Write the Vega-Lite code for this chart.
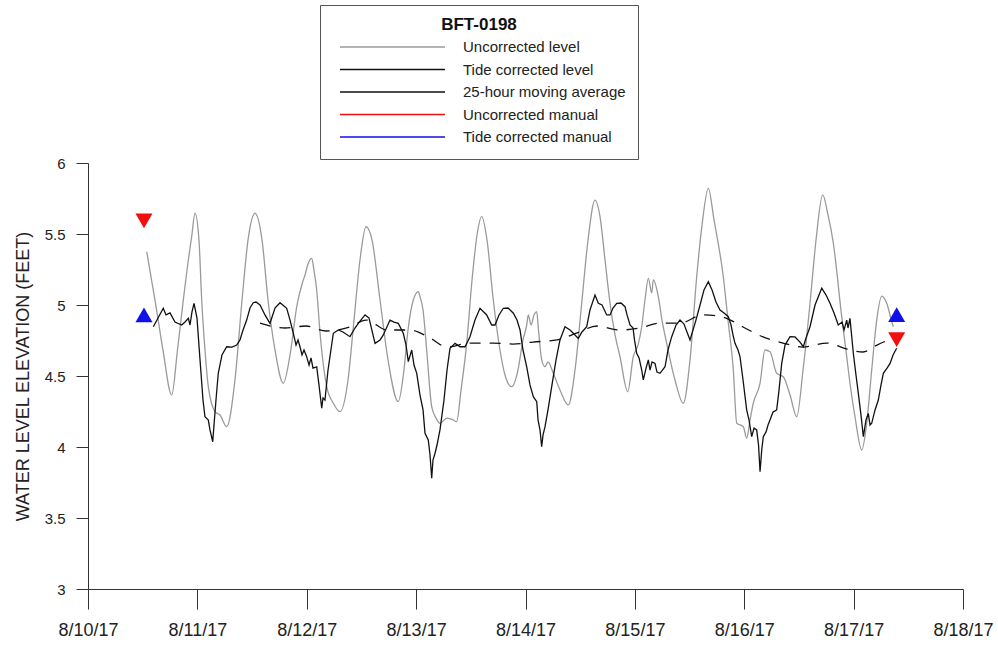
{
  "$schema": "https://vega.github.io/schema/vega-lite/v6.json",
  "width": 875,
  "height": 426,
  "padding": {"left": 88, "top": 163, "right": 35, "bottom": 58},
  "autosize": {"type": "none"},
  "config": {"font": "Liberation Sans", "view": {"stroke": null}},
  "datasets": {
    "gray": [
      {"t":"2017-08-10T12:53","v":5.375},{"t":"2017-08-10T14:42","v":5.035},{"t":"2017-08-10T16:27","v":4.683},{"t":"2017-08-10T18:22","v":4.366},
      {"t":"2017-08-10T19:38","v":4.683},{"t":"2017-08-10T20:55","v":5.035},{"t":"2017-08-10T22:01","v":5.317},{"t":"2017-08-10T22:45","v":5.481},
      {"t":"2017-08-10T23:29","v":5.646},{"t":"2017-08-11T00:21","v":5.458},{"t":"2017-08-11T00:57","v":5.035},{"t":"2017-08-11T01:40","v":4.683},
      {"t":"2017-08-11T02:24","v":4.425},{"t":"2017-08-11T03:52","v":4.249},{"t":"2017-08-11T04:58","v":4.225},{"t":"2017-08-11T06:26","v":4.143},
      {"t":"2017-08-11T08:15","v":4.472},{"t":"2017-08-11T09:48","v":5.035},{"t":"2017-08-11T11:07","v":5.458},{"t":"2017-08-11T12:39","v":5.646},
      {"t":"2017-08-11T14:11","v":5.458},{"t":"2017-08-11T15:30","v":5.035},{"t":"2017-08-11T17:02","v":4.683},{"t":"2017-08-11T18:51","v":4.449},
      {"t":"2017-08-11T20:20","v":4.648},{"t":"2017-08-11T21:52","v":5.0},{"t":"2017-08-11T22:58","v":5.148},{"t":"2017-08-11T23:37","v":5.211},
      {"t":"2017-08-12T00:20","v":5.294},{"t":"2017-08-12T01:05","v":5.329},{"t":"2017-08-12T01:35","v":5.246},{"t":"2017-08-12T02:11","v":5.106},
      {"t":"2017-08-12T02:55","v":4.803},{"t":"2017-08-12T04:23","v":4.425},{"t":"2017-08-12T05:50","v":4.308},{"t":"2017-08-12T07:18","v":4.249},
      {"t":"2017-08-12T09:03","v":4.472},{"t":"2017-08-12T10:22","v":4.894},{"t":"2017-08-12T11:41","v":5.317},{"t":"2017-08-12T13:00","v":5.551},
      {"t":"2017-08-12T14:19","v":5.458},{"t":"2017-08-12T16:05","v":5.035},{"t":"2017-08-12T17:50","v":4.613},{"t":"2017-08-12T20:05","v":4.319},
      {"t":"2017-08-12T21:20","v":4.542},{"t":"2017-08-12T22:13","v":4.824},{"t":"2017-08-12T23:23","v":5.035},{"t":"2017-08-13T00:29","v":5.094},
      {"t":"2017-08-13T00:51","v":5.058},{"t":"2017-08-13T01:31","v":4.965},{"t":"2017-08-13T02:19","v":4.683},{"t":"2017-08-13T03:25","v":4.284},
      {"t":"2017-08-13T04:22","v":4.204},{"t":"2017-08-13T05:14","v":4.167},{"t":"2017-08-13T06:47","v":4.204},{"t":"2017-08-13T08:10","v":4.19},
      {"t":"2017-08-13T08:54","v":4.178},{"t":"2017-08-13T09:51","v":4.401},{"t":"2017-08-13T11:06","v":4.73},{"t":"2017-08-13T12:16","v":5.176},
      {"t":"2017-08-13T13:22","v":5.493},{"t":"2017-08-13T14:23","v":5.622},{"t":"2017-08-13T15:33","v":5.458},{"t":"2017-08-13T16:56","v":5.035},
      {"t":"2017-08-13T18:24","v":4.683},{"t":"2017-08-13T19:30","v":4.507},{"t":"2017-08-13T20:58","v":4.425},{"t":"2017-08-13T22:21","v":4.542},
      {"t":"2017-08-13T23:27","v":4.754},{"t":"2017-08-14T00:16","v":4.859},{"t":"2017-08-14T00:37","v":4.93},{"t":"2017-08-14T01:13","v":4.859},
      {"t":"2017-08-14T01:52","v":4.93},{"t":"2017-08-14T02:28","v":4.953},{"t":"2017-08-14T02:51","v":4.824},{"t":"2017-08-14T03:33","v":4.613},
      {"t":"2017-08-14T04:17","v":4.565},{"t":"2017-08-14T04:56","v":4.599},{"t":"2017-08-14T06:06","v":4.519},{"t":"2017-08-14T07:34","v":4.401},
      {"t":"2017-08-14T09:24","v":4.296},{"t":"2017-08-14T10:52","v":4.542},{"t":"2017-08-14T12:24","v":5.035},{"t":"2017-08-14T13:43","v":5.458},
      {"t":"2017-08-14T15:15","v":5.739},{"t":"2017-08-14T16:21","v":5.622},{"t":"2017-08-14T17:27","v":5.317},{"t":"2017-08-14T18:33","v":5.012},
      {"t":"2017-08-14T19:39","v":4.789},{"t":"2017-08-14T20:44","v":4.636},{"t":"2017-08-14T22:26","v":4.389},{"t":"2017-08-14T23:39","v":4.636},
      {"t":"2017-08-15T00:41","v":4.718},{"t":"2017-08-15T01:30","v":4.847},{"t":"2017-08-15T02:13","v":5.035},{"t":"2017-08-15T02:57","v":5.188},
      {"t":"2017-08-15T03:42","v":5.085},{"t":"2017-08-15T04:03","v":5.176},{"t":"2017-08-15T05:09","v":5.058},{"t":"2017-08-15T05:57","v":4.894},
      {"t":"2017-08-15T06:59","v":4.73},{"t":"2017-08-15T08:48","v":4.472},{"t":"2017-08-15T10:38","v":4.308},{"t":"2017-08-15T12:06","v":4.613},
      {"t":"2017-08-15T13:34","v":5.199},{"t":"2017-08-15T14:44","v":5.563},{"t":"2017-08-15T16:07","v":5.822},{"t":"2017-08-15T17:22","v":5.599},
      {"t":"2017-08-15T19:24","v":5.199},{"t":"2017-08-15T20:26","v":4.894},{"t":"2017-08-15T21:36","v":4.542},{"t":"2017-08-15T22:21","v":4.167},
      {"t":"2017-08-15T23:48","v":4.143},{"t":"2017-08-16T00:32","v":4.061},{"t":"2017-08-16T01:16","v":4.19},{"t":"2017-08-16T01:59","v":4.308},
      {"t":"2017-08-16T03:28","v":4.449},{"t":"2017-08-16T04:33","v":4.683},{"t":"2017-08-16T05:39","v":4.671},{"t":"2017-08-16T07:07","v":4.519},
      {"t":"2017-08-16T08:34","v":4.495},{"t":"2017-08-16T10:03","v":4.366},{"t":"2017-08-16T11:31","v":4.213},{"t":"2017-08-16T12:54","v":4.542},
      {"t":"2017-08-16T14:26","v":5.012},{"t":"2017-08-16T15:45","v":5.458},{"t":"2017-08-16T17:13","v":5.775},{"t":"2017-08-16T18:23","v":5.634},
      {"t":"2017-08-16T19:33","v":5.435},{"t":"2017-08-16T21:23","v":4.918},{"t":"2017-08-16T22:29","v":4.636},{"t":"2017-08-16T23:12","v":4.449},
      {"t":"2017-08-17T00:18","v":4.213},{"t":"2017-08-17T01:47","v":3.979},{"t":"2017-08-17T02:52","v":4.167},{"t":"2017-08-17T03:58","v":4.542},
      {"t":"2017-08-17T05:04","v":4.894},{"t":"2017-08-17T06:10","v":5.063},{"t":"2017-08-17T07:16","v":5.012},{"t":"2017-08-17T08:22","v":4.882},
      {"t":"2017-08-17T08:43","v":4.847}
    ],
    "tide": [
      {"t":"2017-08-10T14:20","v":4.847},{"t":"2017-08-10T15:22","v":4.908},{"t":"2017-08-10T16:31","v":4.977},{"t":"2017-08-10T17:07","v":4.93},
      {"t":"2017-08-10T18:00","v":4.944},{"t":"2017-08-10T19:05","v":4.88},{"t":"2017-08-10T20:34","v":4.859},{"t":"2017-08-10T21:17","v":4.88},
      {"t":"2017-08-10T22:01","v":4.906},{"t":"2017-08-10T22:23","v":4.859},{"t":"2017-08-10T22:49","v":4.951},{"t":"2017-08-10T23:16","v":5.012},
      {"t":"2017-08-10T23:55","v":4.908},{"t":"2017-08-11T00:35","v":4.613},{"t":"2017-08-11T01:14","v":4.331},{"t":"2017-08-11T01:40","v":4.213},
      {"t":"2017-08-11T02:24","v":4.19},{"t":"2017-08-11T02:46","v":4.12},{"t":"2017-08-11T03:22","v":4.037},{"t":"2017-08-11T03:39","v":4.155},
      {"t":"2017-08-11T04:05","v":4.331},{"t":"2017-08-11T04:35","v":4.519},{"t":"2017-08-11T05:24","v":4.648},{"t":"2017-08-11T06:26","v":4.706},
      {"t":"2017-08-11T07:36","v":4.704},{"t":"2017-08-11T08:38","v":4.718},{"t":"2017-08-11T09:21","v":4.754},{"t":"2017-08-11T10:01","v":4.824},
      {"t":"2017-08-11T10:49","v":4.894},{"t":"2017-08-11T11:33","v":4.979},{"t":"2017-08-11T12:16","v":5.016},{"t":"2017-08-11T12:52","v":5.021},
      {"t":"2017-08-11T13:45","v":5.0},{"t":"2017-08-11T14:50","v":4.93},{"t":"2017-08-11T15:56","v":4.871},{"t":"2017-08-11T17:02","v":4.979},
      {"t":"2017-08-11T18:08","v":5.016},{"t":"2017-08-11T19:36","v":4.977},{"t":"2017-08-11T20:20","v":4.894},{"t":"2017-08-11T21:03","v":4.801},
      {"t":"2017-08-11T21:39","v":4.718},{"t":"2017-08-11T22:05","v":4.754},{"t":"2017-08-11T22:31","v":4.706},{"t":"2017-08-11T22:58","v":4.648},
      {"t":"2017-08-11T23:24","v":4.683},{"t":"2017-08-11T23:59","v":4.636},{"t":"2017-08-12T00:30","v":4.577},{"t":"2017-08-12T00:56","v":4.627},
      {"t":"2017-08-12T01:22","v":4.556},{"t":"2017-08-12T02:11","v":4.565},{"t":"2017-08-12T02:41","v":4.437},{"t":"2017-08-12T03:17","v":4.273},
      {"t":"2017-08-12T03:34","v":4.345},{"t":"2017-08-12T04:00","v":4.331},{"t":"2017-08-12T04:40","v":4.542},{"t":"2017-08-12T05:50","v":4.801},
      {"t":"2017-08-12T06:55","v":4.824},{"t":"2017-08-12T07:57","v":4.81},{"t":"2017-08-12T09:29","v":4.777},{"t":"2017-08-12T10:35","v":4.838},
      {"t":"2017-08-12T11:19","v":4.871},{"t":"2017-08-12T12:47","v":4.93},{"t":"2017-08-12T13:40","v":4.908},{"t":"2017-08-12T14:59","v":4.73},
      {"t":"2017-08-12T16:05","v":4.754},{"t":"2017-08-12T16:48","v":4.789},{"t":"2017-08-12T18:16","v":4.894},{"t":"2017-08-12T19:09","v":4.88},
      {"t":"2017-08-12T20:05","v":4.871},{"t":"2017-08-12T21:11","v":4.801},{"t":"2017-08-12T21:47","v":4.718},{"t":"2017-08-12T22:17","v":4.601},
      {"t":"2017-08-12T23:02","v":4.683},{"t":"2017-08-12T23:32","v":4.577},{"t":"2017-08-13T00:08","v":4.519},{"t":"2017-08-13T00:51","v":4.366},
      {"t":"2017-08-13T01:31","v":4.261},{"t":"2017-08-13T01:57","v":4.096},{"t":"2017-08-13T02:40","v":4.049},{"t":"2017-08-13T03:03","v":3.944},
      {"t":"2017-08-13T03:25","v":3.78},{"t":"2017-08-13T03:42","v":3.908},{"t":"2017-08-13T04:09","v":3.956},{"t":"2017-08-13T04:35","v":4.014},
      {"t":"2017-08-13T05:14","v":4.12},{"t":"2017-08-13T06:07","v":4.331},{"t":"2017-08-13T06:47","v":4.542},{"t":"2017-08-13T07:26","v":4.695},
      {"t":"2017-08-13T08:32","v":4.73},{"t":"2017-08-13T09:38","v":4.706},{"t":"2017-08-13T10:44","v":4.706},{"t":"2017-08-13T11:49","v":4.777},
      {"t":"2017-08-13T12:55","v":4.894},{"t":"2017-08-13T14:01","v":4.977},{"t":"2017-08-13T15:29","v":4.93},{"t":"2017-08-13T16:35","v":4.859},
      {"t":"2017-08-13T17:19","v":4.859},{"t":"2017-08-13T18:11","v":4.93},{"t":"2017-08-13T19:08","v":4.977},{"t":"2017-08-13T20:10","v":4.979},
      {"t":"2017-08-13T21:20","v":4.942},{"t":"2017-08-13T22:08","v":4.894},{"t":"2017-08-13T22:48","v":4.824},{"t":"2017-08-13T23:27","v":4.683},
      {"t":"2017-08-14T00:16","v":4.565},{"t":"2017-08-14T00:59","v":4.437},{"t":"2017-08-14T01:43","v":4.354},{"t":"2017-08-14T02:28","v":4.319},
      {"t":"2017-08-14T02:45","v":4.19},{"t":"2017-08-14T03:11","v":4.12},{"t":"2017-08-14T03:33","v":4.002},{"t":"2017-08-14T03:51","v":4.085},
      {"t":"2017-08-14T04:17","v":4.143},{"t":"2017-08-14T04:56","v":4.261},{"t":"2017-08-14T05:45","v":4.425},{"t":"2017-08-14T06:42","v":4.613},
      {"t":"2017-08-14T07:34","v":4.754},{"t":"2017-08-14T08:40","v":4.847},{"t":"2017-08-14T09:46","v":4.824},{"t":"2017-08-14T10:39","v":4.796},
      {"t":"2017-08-14T11:35","v":4.765},{"t":"2017-08-14T12:24","v":4.81},{"t":"2017-08-14T13:26","v":4.847},{"t":"2017-08-14T14:09","v":4.965},
      {"t":"2017-08-14T15:15","v":5.07},{"t":"2017-08-14T15:59","v":5.012},{"t":"2017-08-14T16:47","v":5.0},{"t":"2017-08-14T17:49","v":4.93},
      {"t":"2017-08-14T18:33","v":4.93},{"t":"2017-08-14T19:12","v":4.979},{"t":"2017-08-14T20:01","v":5.012},{"t":"2017-08-14T20:58","v":5.014},
      {"t":"2017-08-14T21:50","v":4.988},{"t":"2017-08-14T22:17","v":4.93},{"t":"2017-08-14T22:56","v":4.859},{"t":"2017-08-14T23:36","v":4.838},
      {"t":"2017-08-14T23:55","v":4.754},{"t":"2017-08-15T00:24","v":4.66},{"t":"2017-08-15T00:55","v":4.627},{"t":"2017-08-15T01:30","v":4.542},
      {"t":"2017-08-15T01:51","v":4.472},{"t":"2017-08-15T02:27","v":4.556},{"t":"2017-08-15T02:57","v":4.613},{"t":"2017-08-15T03:19","v":4.542},
      {"t":"2017-08-15T03:46","v":4.599},{"t":"2017-08-15T04:25","v":4.589},{"t":"2017-08-15T04:51","v":4.528},{"t":"2017-08-15T05:31","v":4.519},
      {"t":"2017-08-15T06:37","v":4.565},{"t":"2017-08-15T07:16","v":4.683},{"t":"2017-08-15T08:05","v":4.777},{"t":"2017-08-15T09:02","v":4.859},
      {"t":"2017-08-15T09:54","v":4.894},{"t":"2017-08-15T10:47","v":4.866},{"t":"2017-08-15T11:26","v":4.81},{"t":"2017-08-15T12:06","v":4.754},
      {"t":"2017-08-15T13:12","v":4.871},{"t":"2017-08-15T14:18","v":5.0},{"t":"2017-08-15T15:10","v":5.106},{"t":"2017-08-15T16:07","v":5.164},
      {"t":"2017-08-15T16:56","v":5.106},{"t":"2017-08-15T17:48","v":5.021},{"t":"2017-08-15T18:41","v":4.965},{"t":"2017-08-15T19:34","v":4.944},
      {"t":"2017-08-15T20:30","v":4.918},{"t":"2017-08-15T21:06","v":4.859},{"t":"2017-08-15T21:32","v":4.789},{"t":"2017-08-15T21:58","v":4.73},
      {"t":"2017-08-15T22:38","v":4.683},{"t":"2017-08-15T23:04","v":4.636},{"t":"2017-08-15T23:44","v":4.472},{"t":"2017-08-16T00:32","v":4.261},
      {"t":"2017-08-16T01:03","v":4.19},{"t":"2017-08-16T01:38","v":4.073},{"t":"2017-08-16T02:09","v":4.134},{"t":"2017-08-16T02:44","v":4.12},
      {"t":"2017-08-16T03:08","v":4.014},{"t":"2017-08-16T03:28","v":3.826},{"t":"2017-08-16T03:50","v":3.979},{"t":"2017-08-16T04:11","v":4.073},
      {"t":"2017-08-16T04:47","v":4.106},{"t":"2017-08-16T05:13","v":4.155},{"t":"2017-08-16T05:39","v":4.19},{"t":"2017-08-16T06:19","v":4.246},
      {"t":"2017-08-16T07:07","v":4.261},{"t":"2017-08-16T07:38","v":4.401},{"t":"2017-08-16T08:13","v":4.589},{"t":"2017-08-16T08:57","v":4.718},
      {"t":"2017-08-16T10:03","v":4.777},{"t":"2017-08-16T11:08","v":4.775},{"t":"2017-08-16T12:14","v":4.739},{"t":"2017-08-16T12:58","v":4.706},
      {"t":"2017-08-16T13:33","v":4.768},{"t":"2017-08-16T14:26","v":4.847},{"t":"2017-08-16T15:32","v":5.0},{"t":"2017-08-16T17:00","v":5.118},
      {"t":"2017-08-16T17:57","v":5.07},{"t":"2017-08-16T18:49","v":5.012},{"t":"2017-08-16T19:42","v":4.944},{"t":"2017-08-16T20:38","v":4.859},
      {"t":"2017-08-16T21:27","v":4.88},{"t":"2017-08-16T21:54","v":4.824},{"t":"2017-08-16T22:29","v":4.894},{"t":"2017-08-16T22:46","v":4.838},
      {"t":"2017-08-16T23:12","v":4.906},{"t":"2017-08-16T23:56","v":4.66},{"t":"2017-08-17T00:31","v":4.507},{"t":"2017-08-17T01:02","v":4.378},
      {"t":"2017-08-17T01:37","v":4.225},{"t":"2017-08-17T02:08","v":4.073},{"t":"2017-08-17T02:43","v":4.19},{"t":"2017-08-17T03:13","v":4.237},
      {"t":"2017-08-17T03:36","v":4.155},{"t":"2017-08-17T03:58","v":4.167},{"t":"2017-08-17T04:42","v":4.261},{"t":"2017-08-17T05:25","v":4.331},
      {"t":"2017-08-17T06:01","v":4.437},{"t":"2017-08-17T06:31","v":4.519},{"t":"2017-08-17T07:20","v":4.556},{"t":"2017-08-17T08:00","v":4.589},
      {"t":"2017-08-17T08:39","v":4.648},{"t":"2017-08-17T09:27","v":4.695}
    ],
    "movavg": [
      {"t":"2017-08-11T13:45","v":4.873},{"t":"2017-08-11T19:14","v":4.838},{"t":"2017-08-11T23:50","v":4.852},{"t":"2017-08-12T04:13","v":4.817},
      {"t":"2017-08-12T09:29","v":4.845},{"t":"2017-08-12T13:00","v":4.894},{"t":"2017-08-12T17:37","v":4.824},{"t":"2017-08-12T22:39","v":4.824},
      {"t":"2017-08-13T03:03","v":4.768},{"t":"2017-08-13T06:47","v":4.704},{"t":"2017-08-13T11:49","v":4.732},{"t":"2017-08-13T16:52","v":4.732},
      {"t":"2017-08-13T21:16","v":4.725},{"t":"2017-08-14T01:39","v":4.739},{"t":"2017-08-14T06:55","v":4.754},{"t":"2017-08-14T11:18","v":4.803},
      {"t":"2017-08-14T15:42","v":4.852},{"t":"2017-08-14T20:44","v":4.824},{"t":"2017-08-15T01:08","v":4.838},{"t":"2017-08-15T05:31","v":4.873},
      {"t":"2017-08-15T09:54","v":4.873},{"t":"2017-08-15T14:57","v":4.93},{"t":"2017-08-15T19:20","v":4.915},{"t":"2017-08-15T23:44","v":4.845},
      {"t":"2017-08-16T04:07","v":4.775},{"t":"2017-08-16T08:30","v":4.732},{"t":"2017-08-16T12:54","v":4.704},{"t":"2017-08-16T18:10","v":4.732},
      {"t":"2017-08-16T22:33","v":4.69},{"t":"2017-08-17T02:04","v":4.669},{"t":"2017-08-17T05:08","v":4.718},{"t":"2017-08-17T08:39","v":4.768}
    ],
    "mandown": [
      {"t":"2017-08-10T12:17","v":5.592},{"t":"2017-08-17T09:27","v":4.756}
    ],
    "manup": [
      {"t":"2017-08-10T12:17","v":4.93},{"t":"2017-08-17T09:27","v":4.933}
    ]
  },
  "encoding": {
    "x": {
      "field": "t", "type": "temporal",
      "scale": {"domain": [{"year": 2017, "month": 8, "date": 10}, {"year": 2017, "month": 8, "date": 18}]},
      "axis": {
        "title": null, "grid": false, "format": "%-m/%-d/%y", "tickCount": 8, "labelFlush": false,
        "tickSize": 20, "tickColor": "#333333", "domainColor": "#333333",
        "labelFontSize": 18, "labelColor": "#222222", "labelPadding": 12
      }
    },
    "y": {
      "field": "v", "type": "quantitative",
      "scale": {"domain": [3, 6], "nice": false, "zero": false},
      "axis": {
        "title": "WATER LEVEL ELEVATION (FEET)", "grid": false, "tickCount": 6, "format": ".1~f",
        "tickSize": 12, "tickColor": "#333333", "domainColor": "#333333",
        "labelFontSize": 15, "labelColor": "#222222", "labelPadding": 11,
        "titleFontSize": 18, "titleFontWeight": "normal", "titleColor": "#222222", "titlePadding": 12
      }
    }
  },
  "layer": [
    {
      "data": {"name": "gray"},
      "mark": {"type": "line", "interpolate": "monotone", "strokeWidth": 1.3},
      "encoding": {
        "color": {
          "datum": "Uncorrected level", "type": "nominal",
          "scale": {
            "domain": ["Uncorrected level", "Tide corrected level", "25-hour moving average", "Uncorrected manual", "Tide corrected manual"],
            "range": ["#9a9a9a", "#111111", "#111111", "#f01010", "#1010e8"]
          },
          "legend": {
            "orient": "none", "legendX": 232, "legendY": -158,
            "title": "BFT-0198", "titleFontSize": 17, "titleFontWeight": "bold",
            "titleColor": "#111111", "titleAnchor": "middle", "titlePadding": 3,
            "labelFontSize": 15, "labelColor": "#222222", "labelLimit": 400, "labelOffset": 17,
            "symbolType": "stroke", "symbolSize": 11025, "symbolStrokeWidth": 1.3, "symbolOffset": 7,
            "clipHeight": 20, "rowPadding": 2.5,
            "padding": 12, "strokeColor": "#555555", "fillColor": "#ffffff"
          }
        }
      }
    },
    {
      "data": {"name": "tide"},
      "mark": {"type": "line", "strokeWidth": 1.3},
      "encoding": {"color": {"datum": "Tide corrected level", "type": "nominal"}}
    },
    {
      "data": {"name": "movavg"},
      "mark": {"type": "line", "interpolate": "monotone", "strokeWidth": 1.3, "strokeDash": [11, 9]},
      "encoding": {"color": {"datum": "25-hour moving average", "type": "nominal"}}
    },
    {
      "data": {"name": "mandown"},
      "mark": {"type": "point", "shape": "triangle-down", "filled": true, "size": 290, "opacity": 1},
      "encoding": {"color": {"datum": "Uncorrected manual", "type": "nominal"}}
    },
    {
      "data": {"name": "manup"},
      "mark": {"type": "point", "shape": "triangle-up", "filled": true, "size": 290, "opacity": 1},
      "encoding": {"color": {"datum": "Tide corrected manual", "type": "nominal"}}
    }
  ]
}
